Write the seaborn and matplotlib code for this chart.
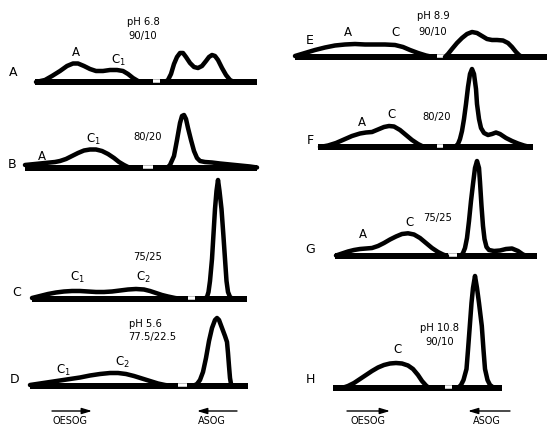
import matplotlib
matplotlib.use("Agg")
import matplotlib.pyplot as plt
import seaborn as sns
import pandas as pd

# Densitometer traces: distance along the strip (px-scale units) and optical density
A_left_x = [36, 45, 52, 60, 67, 73, 78, 84, 90, 96, 103, 110, 117, 123, 128, 133, 138, 142]
A_left_y = [0, 2, 6, 11, 16, 18.5, 18.5, 16, 13, 11, 11, 12, 12, 11, 8, 4, 1, 0]
A_right_x = [165, 168, 171, 174, 177, 180, 183, 186, 190, 194, 198, 202, 206, 209, 212, 215, 218, 222, 226, 230, 234]
A_right_y = [0, 2, 8, 18, 25, 29, 29, 25, 19, 15, 14, 16, 21, 25, 27, 26, 22, 14, 7, 2, 0]

B_left_x = [25, 35, 45, 55, 60, 66, 72, 78, 84, 90, 96, 102, 108, 114, 119, 124, 128, 132]
B_left_y = [3, 4, 5, 6, 7, 9, 12, 15, 17.5, 18.5, 18.5, 17, 14, 10, 6, 3, 1, 0]
B_right_x = [167, 170, 174, 177, 180, 182, 184, 186, 188, 191, 194, 197, 200, 205, 212, 220, 230, 240, 250, 257]
B_right_y = [0, 3, 12, 28, 45, 52, 53, 49, 40, 28, 17, 10, 7, 6, 5.5, 4.5, 3.5, 2.5, 1.5, 0.5]

C_left_x = [32, 40, 48, 56, 64, 72, 80, 88, 96, 104, 112, 120, 128, 136, 144, 150, 156, 162, 168, 175, 182]
C_left_y = [1, 3, 5, 6.5, 7.5, 8, 8, 7.5, 7, 7, 7.5, 8.5, 9.5, 10, 9.5, 8, 6, 4, 2.5, 1, 0]
C_right_x = [204, 207, 208.5, 210, 212, 213.5, 215, 216.5, 218, 219.5, 221.5, 223.3, 225, 226.5, 228, 230, 233]
C_right_y = [0, 2, 7, 18, 40, 65, 90, 108, 119, 108, 90, 65, 40, 18, 7, 2, 0]

D_left_x = [30, 40, 50, 60, 70, 80, 90, 100, 110, 118, 126, 134, 142, 150, 158, 165, 172]
D_left_y = [1, 2.5, 4, 5.5, 7, 8.5, 10.5, 12, 13, 13, 12, 10, 7.5, 5, 2.5, 1, 0]
D_right_x = [193, 197, 200, 203, 206, 209, 212, 215, 217, 219, 222, 225, 227, 228, 229, 230, 231, 233]
D_right_y = [0, 2, 6, 14, 28, 45, 58, 66, 68, 66, 58, 50, 44, 33, 20, 8, 2, 0]

E_left_x = [15, 25, 35, 45, 55, 65, 75, 85, 95, 105, 115, 123, 130, 138, 146, 153]
E_left_y = [1, 4, 7, 9.5, 11.5, 12.5, 13, 12.5, 12.5, 12.5, 12, 10, 7, 4, 1.5, 0]
E_right_x = [165, 168, 172, 177, 182, 187, 192, 197, 202, 207, 212, 217, 223, 228, 232, 236, 239, 242]
E_right_y = [0, 3, 8, 14, 19, 23, 25, 24, 21, 18, 17, 17, 16.5, 14, 10, 5, 2, 0]

F_left_x = [40, 48, 56, 64, 72, 80, 86, 92, 98, 104, 109, 114, 120, 126, 132, 138, 143, 147]
F_left_y = [0, 1.5, 4, 7.5, 11, 13.5, 14.5, 15, 17.5, 20, 21, 20.5, 17, 12, 7, 3, 0.5, 0]
F_right_x = [175, 178, 180, 182, 184, 186, 188, 190, 192, 194, 196, 197, 199, 201, 204, 208, 212, 216, 220, 226, 232, 238, 244, 250]
F_right_y = [0, 3, 8, 16, 28, 43, 60, 73, 78, 73, 58, 43, 28, 19, 14, 12, 13, 14.5, 13, 9, 6, 3.5, 1.5, 0]

G_left_x = [56, 62, 68, 74, 80, 86, 92, 98, 104, 110, 116, 122, 128, 134, 140, 146, 152, 158, 163, 167]
G_left_y = [0.5, 2.5, 4.5, 6, 7, 7.5, 8, 10, 13, 16.5, 19.5, 22, 22.7, 21.5, 18, 13, 8, 4, 1.5, 0]
G_right_x = [181, 183, 185, 187, 189, 191, 193, 195, 197, 199, 200, 201.5, 203, 204.5, 206.5, 209, 214, 220, 226, 232, 238, 243, 247]
G_right_y = [0, 3, 8, 18, 35, 55, 72, 88, 95, 88, 74, 50, 30, 17, 9, 6, 5, 5.5, 7, 7.5, 5, 1.5, 0]

H_left_x = [62, 68, 74, 80, 86, 92, 98, 104, 110, 116, 122, 128, 133, 138, 142, 146, 149]
H_left_y = [0, 2, 5, 9, 13, 17, 20.5, 23, 24.5, 25, 24.5, 22.5, 19, 13, 7, 2.5, 0]
H_right_x = [178, 181, 183.5, 186.5, 188, 189.8, 191.5, 193, 195, 197, 199, 201.8, 203.5, 205, 207.5, 210, 214]
H_right_y = [0, 3, 8, 19, 38, 62, 85, 100, 112, 100, 85, 62, 38, 19, 8, 3, 0]

panel_letters = ["A", "B", "C", "D", "E", "F", "G", "H"]
conditions = {
    "A": ["pH 6.8", "90/10"],
    "B": ["80/20"],
    "C": ["75/25"],
    "D": ["pH 5.6", "77.5/22.5"],
    "E": ["pH 8.9", "90/10"],
    "F": ["80/20"],
    "G": ["75/25"],
    "H": ["pH 10.8", "90/10"],
}
peak_labels = {
    "A": ["A", "C$_1$"],
    "B": ["A", "C$_1$"],
    "C": ["C$_1$", "C$_2$"],
    "D": ["C$_1$", "C$_2$"],
    "E": ["A", "C"],
    "F": ["A", "C"],
    "G": ["A", "C"],
    "H": ["C"],
}
direction_labels = ["OESOG", "ASOG"]

traces = {
    "A": [(A_left_x, A_left_y), (A_right_x, A_right_y)],
    "B": [(B_left_x, B_left_y), (B_right_x, B_right_y)],
    "C": [(C_left_x, C_left_y), (C_right_x, C_right_y)],
    "D": [(D_left_x, D_left_y), (D_right_x, D_right_y)],
    "E": [(E_left_x, E_left_y), (E_right_x, E_right_y)],
    "F": [(F_left_x, F_left_y), (F_right_x, F_right_y)],
    "G": [(G_left_x, G_left_y), (G_right_x, G_right_y)],
    "H": [(H_left_x, H_left_y), (H_right_x, H_right_y)],
}

# ---- layout (figure pixels) ----
W, H = 551, 427
col_x0 = {"A": 0, "B": 0, "C": 0, "D": 0, "E": 280, "F": 280, "G": 280, "H": 280}
col_w = {"A": 275, "B": 275, "C": 275, "D": 275, "E": 271, "F": 271, "G": 271, "H": 271}
baseline_px = {"A": 83, "B": 169, "C": 300, "D": 387, "E": 58, "F": 148, "G": 257, "H": 389}
strip = {"A": (35, 257), "B": (25, 257), "C": (32, 247), "D": (30, 248),
         "E": (15, 267), "F": (38, 253), "G": (55, 257), "H": (53, 222)}
origin_gap = {"A": (153, 160), "B": (143, 153), "C": (188, 195), "D": (178, 187),
              "E": (157, 165), "F": (157, 163), "G": (168, 177), "H": (165, 172)}
letter_pos = {"A": (13, 11), "B": (12, 4), "C": (17, 7), "D": (15, 7),
              "E": (30, 18), "F": (30, 8), "G": (30, 7), "H": (30, 9)}
cond_pos = {"A": [(143, 61), (143, 47)], "B": [(148, 32)], "C": [(148, 43)],
            "D": [(145, 63), (152, 50)], "E": [(153, 42), (153, 26)],
            "F": [(157, 31)], "G": [(158, 39)], "H": [(160, 61), (160, 47)]}
peak_pos = {"A": [(76, 30), (118, 23)], "B": [(42, 12), (93, 30)],
            "C": [(77, 23), (143, 23)], "D": [(63, 17), (122, 25)],
            "E": [(68, 25), (115, 25)], "F": [(82, 26), (112, 33)],
            "G": [(83, 22), (130, 34)], "H": [(117, 39)]}

sns.set_theme(style="white")
plt.rcParams["font.family"] = ["DejaVu Sans"]
plt.rcParams["mathtext.fontset"] = "dejavusans"

fig = plt.figure(figsize=(W / 100, H / 100), dpi=100)
fig.patch.set_facecolor("white")

PX = 0.72  # points per pixel at 100 dpi
pad_below, room_above = 40, 135

axes = {}
for key in panel_letters:
    x0, w, b = col_x0[key], col_w[key], baseline_px[key]
    ax = fig.add_axes([x0 / W, (H - b - pad_below) / H, w / W, (pad_below + room_above) / H])
    ax.set_xlim(0, w)
    ax.set_ylim(-pad_below, room_above)
    ax.axis("off")
    ax.patch.set_alpha(0)
    axes[key] = ax

    # baseline of the strip with the origin notch
    s0, s1 = strip[key]
    ax.plot([s0, s1], [0, 0], color="black", lw=6 * PX, solid_capstyle="butt")
    g0, g1 = origin_gap[key]
    ax.plot([g0, g1], [1.2, 1.2], color="white", lw=3.5 * PX, solid_capstyle="butt")

    # scan traces
    for tx, ty in traces[key]:
        df = pd.DataFrame({"dist": tx, "od": ty})
        sns.lineplot(data=df, x="dist", y="od", ax=ax, color="black",
                     linewidth=4.5 * PX, sort=False, estimator=None,
                     solid_joinstyle="round", solid_capstyle="round")
    ax.set_xlabel("")
    ax.set_ylabel("")

    lx, ly = letter_pos[key]
    ax.text(lx, ly, key, ha="center", va="center", fontsize=9, color="black")
    for txt, (px_, py_) in zip(conditions[key], cond_pos[key]):
        ax.text(px_, py_, txt, ha="center", va="center", fontsize=7.2, color="black")
    for txt, (px_, py_) in zip(peak_labels[key], peak_pos[key]):
        ax.text(px_, py_, txt, ha="center", va="center", fontsize=8.5, color="black")

# direction of migration under each column
for key, spots in (("D", [(70, 52, 92), (212, 237, 197)]), ("H", [(88, 67, 110), (207, 230, 188)])):
    ax = axes[key]
    base = baseline_px[key]
    for label, (tx, a0, a1) in zip(direction_labels, spots):
        ax.text(tx, base - 421, label, ha="center", va="center", fontsize=7, color="black")
        ax.annotate("", xy=(a1, base - 412), xytext=(a0, base - 412),
                    arrowprops=dict(arrowstyle="-|>,head_length=0.5,head_width=0.15",
                                    color="black", lw=1.0, shrinkA=0, shrinkB=0),
                    annotation_clip=False)

fig.savefig("out.png", dpi=100, facecolor="white")
